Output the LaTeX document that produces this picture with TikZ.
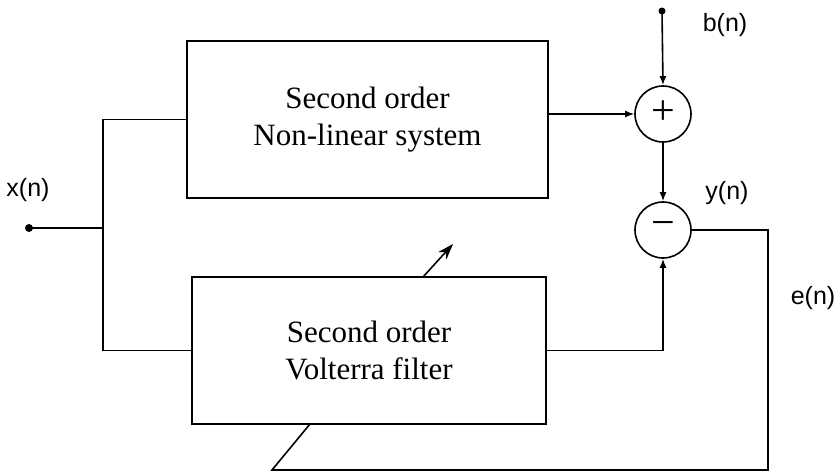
\documentclass[tikz,border=0pt]{standalone}
\usepackage{fontspec}
\setmainfont{Liberation Serif}
\newfontfamily\labelfont{Liberation Sans}
\usepackage{tikz}
\usetikzlibrary{arrows.meta, calc}

\begin{document}
\begin{tikzpicture}[x=1pt, y=-1pt, line width=1.6pt,
    blockbox/.style={draw, align=center, inner sep=0pt, font=\fontsize{31}{37}\selectfont},
    sumcirc/.style={draw, circle, minimum size=56pt, inner sep=0pt, font=\fontsize{42}{42}\selectfont},
    siglabel/.style={font=\labelfont\fontsize{25}{25}\selectfont, inner sep=0pt},
    sigarrow/.style={-{Latex[length=9pt, width=7pt]}}]
  \useasboundingbox (0,0) rectangle (840,473);

  % blocks and summing points
  \node[blockbox, minimum width=361pt, minimum height=157pt] (nls) at (367.5,119.5) {Second order\\Non-linear system};
  \node[blockbox, minimum width=354pt, minimum height=147pt] (vf) at (369,350.5) {Second order\\Volterra filter};
  \node[sumcirc] (add) at (663,114) {\raisebox{2pt}{+}};
  \node[sumcirc] (sub) at (663,230) {\raisebox{2pt}{−}};

  % signal points
  \coordinate (xin) at (29,228);
  \coordinate (split) at (103,228);
  \coordinate (bin) at (662,11);
  \coordinate (fbcorner) at (768,470);
  \coordinate (fbend) at (272,470);
  \coordinate (adapt) at (310,424);
  \coordinate (tunefrom) at (423,277);
  \coordinate (tuneto) at (453,244);
  \fill (xin) circle (4pt);
  \fill (bin) circle (3.5pt);

  % labels
  \node[siglabel] (xlab) at (28,190) {x(n)};
  \node[siglabel] (blab) at (725,25) {b(n)};
  \node[siglabel] (ylab) at (727,193) {y(n)};
  \node[siglabel] (elab) at (813,298) {e(n)};

  % connectors
  \draw (xin) -- (split);
  \draw (nls.west) -| (split) |- (vf.west);
  \draw[sigarrow] (nls.east |- add) -- (add.west);
  \draw[sigarrow] (bin) -- (add.north);
  \draw[sigarrow] (add.south) -- (sub.north);
  \draw[sigarrow] (vf.east) -| (sub.south);
  \draw (sub.east) -| (fbcorner) -- (fbend) -- (adapt);
  \draw[-{Stealth[length=16pt, width=11pt]}] (tunefrom) -- (tuneto);
\end{tikzpicture}
\end{document}
